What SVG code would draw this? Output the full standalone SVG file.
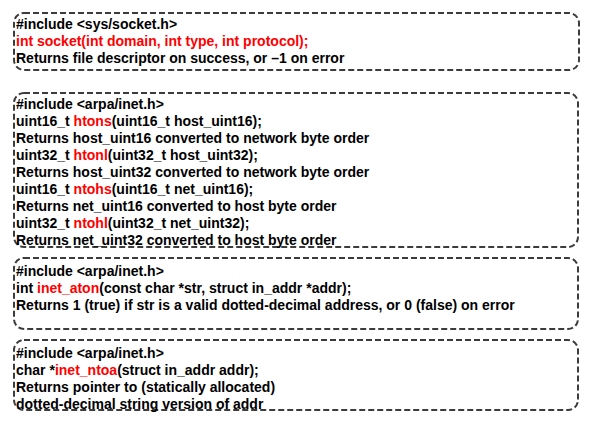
<svg xmlns="http://www.w3.org/2000/svg" width="592" height="423" viewBox="0 0 592 423">
<style>
.box{fill:none;stroke:#3c3c3c;stroke-width:2;stroke-dasharray:6 3}
text{font-family:"Liberation Sans",Arial,Helvetica,sans-serif;font-weight:bold;font-size:14px;fill:#000}
.r{fill:#ff0000}
</style>
<rect width="592" height="423" fill="#fff"/>
<g id="node-socket">
<rect class="box" x="14" y="13" width="565" height="57" rx="10"/>
<text x="16" y="29">#include &lt;sys/socket.h&gt;</text>
<text x="16" y="46" class="r">int socket(int domain, int type, int protocol);</text>
<text x="16" y="63">Returns file descriptor on success, or –1 on error</text>
</g>
<g id="node-byteorder">
<rect class="box" x="14" y="93" width="564" height="154" rx="10"/>
<text x="16" y="109">#include &lt;arpa/inet.h&gt;</text>
<text x="16" y="126">uint16_t <tspan class="r">htons</tspan>(uint16_t host_uint16);</text>
<text x="16" y="143">Returns host_uint16 converted to network byte order</text>
<text x="16" y="160">uint32_t <tspan class="r">htonl</tspan>(uint32_t host_uint32);</text>
<text x="16" y="177">Returns host_uint32 converted to network byte order</text>
<text x="16" y="194">uint16_t <tspan class="r">ntohs</tspan>(uint16_t net_uint16);</text>
<text x="16" y="211">Returns net_uint16 converted to host byte order</text>
<text x="16" y="228">uint32_t <tspan class="r">ntohl</tspan>(uint32_t net_uint32);</text>
<text x="16" y="245">Returns net_uint32 converted to host byte order</text>
</g>
<g id="node-aton">
<rect class="box" x="14" y="258" width="564" height="71" rx="10"/>
<text x="16" y="276">#include &lt;arpa/inet.h&gt;</text>
<text x="16" y="293">int <tspan class="r">inet_aton</tspan>(const char *str, struct in_addr *addr);</text>
<text x="16" y="310">Returns 1 (true) if str is a valid dotted-decimal address, or 0 (false) on error</text>
</g>
<g id="node-ntoa">
<rect class="box" x="14" y="340" width="564" height="70" rx="10"/>
<text x="16" y="358">#include &lt;arpa/inet.h&gt;</text>
<text x="16" y="375">char *<tspan class="r">inet_ntoa</tspan>(struct in_addr addr);</text>
<text x="16" y="392">Returns pointer to (statically allocated)</text>
<text x="16" y="409">dotted-decimal string version of addr</text>
</g>
<g id="connectors"></g>
</svg>
